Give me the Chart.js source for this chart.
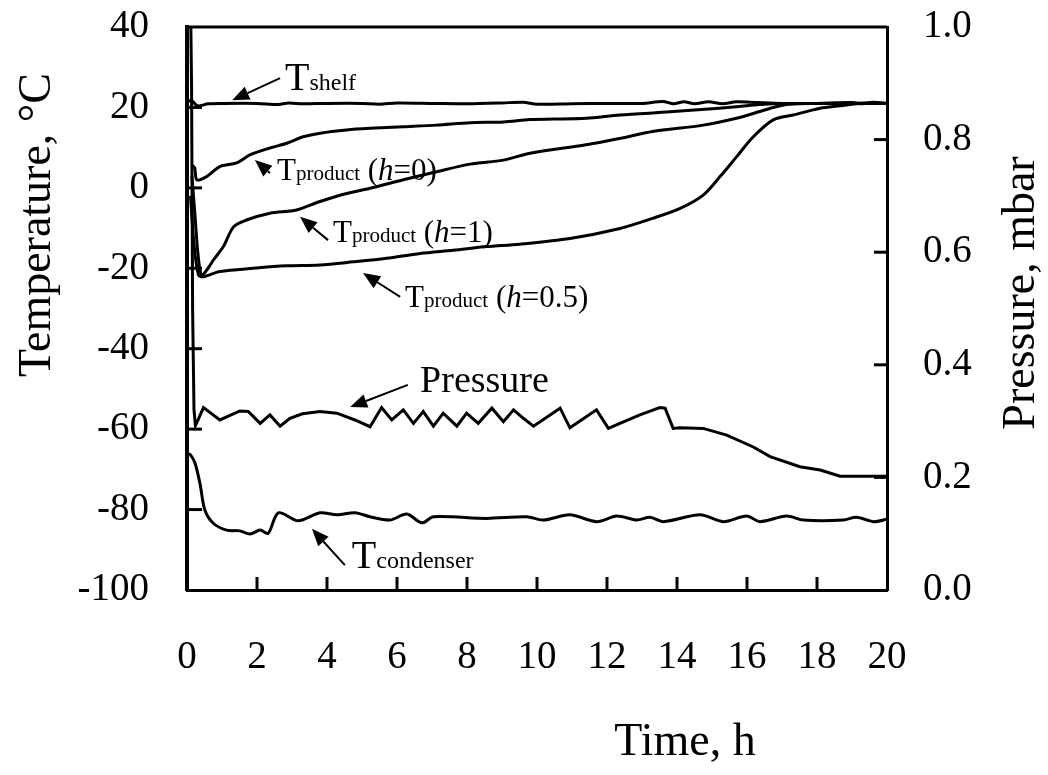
<!DOCTYPE html>
<html><head><meta charset="utf-8">
<script src="https://cdn.jsdelivr.net/npm/chart.js@4.4.1/dist/chart.umd.min.js"></script>
<style>html,body{margin:0;padding:0;background:#fff;}#wrap{width:1048px;height:775px;position:relative;}</style>
</head><body><div id="wrap"><canvas id="c" width="1048" height="775"></canvas></div>
<script>
const FONT = '"Liberation Serif", "Times New Roman", serif';

// ---- data ----
const shelfTime = [0.05,0.12,0.3,0.6,1.0,2.0,2.6,2.9,3.3,4.0,5.0,5.5,6.0,7.0,8.0,9.0,9.6,10.0,11.0,12.0,13.0,13.6,13.9,14.2,14.5,14.9,15.3,15.7,16.3,17.0,18.0,19.0,19.3,19.6,20.0];
const shelfTemp = [21.5,21.8,20.4,20.9,21.0,21.0,20.7,21.1,20.9,21.0,21.0,20.8,21.1,21.0,20.9,21.1,21.3,20.8,20.9,21.0,21.0,21.5,20.9,21.4,20.9,21.4,20.9,21.4,21.2,21.0,21.0,21.2,20.9,21.3,21.0];

const prodH0Time = [0.15,0.22,0.28,0.56,0.94,1.42,1.8,2.37,2.85,3.32,3.8,4.56,5.23,6.18,7.13,8.09,9.04,9.8,10.5,11.4,12.37,13.8,15.2,16.2,16.7,17.5,18.5,19.5,20.0];
const prodH0Temp = [5.5,5.0,2.0,2.8,5.3,6.2,8.2,9.9,11.1,12.7,13.6,14.4,14.8,15.2,15.6,16.2,16.4,17.0,17.1,17.3,18.1,18.9,19.8,20.6,20.9,21.0,21.0,21.1,21.0];

const prodH1Time = [0.14,0.22,0.32,0.42,0.6,0.75,1.04,1.33,1.7,2.37,3.13,3.8,4.56,5.23,6.18,7.13,8.09,9.04,9.8,11.4,12.37,13.3,14.75,15.7,16.18,16.75,17.2,18.0,19.0,20.0];
const prodH1Temp = [3.0,-6.0,-17.0,-21.7,-20.0,-18.0,-14.6,-9.7,-8.0,-6.3,-5.5,-3.4,-1.4,-0.1,2.0,4.0,5.9,6.9,8.6,10.7,12.3,14.0,15.6,17.3,18.5,20.0,20.8,21.0,21.0,21.0];

const prodH05Time = [0.1,0.2,0.33,0.47,0.94,1.9,2.85,3.8,4.75,5.7,6.66,7.61,8.56,9.5,10.94,12.37,13.3,14.09,14.75,15.23,15.7,16.18,16.75,17.32,18.09,18.66,19.2,20.0];
const prodH05Temp = [-2.0,-14.0,-21.7,-22.1,-20.8,-20.0,-19.4,-19.2,-18.4,-17.5,-16.3,-15.5,-14.6,-14.0,-12.6,-10.1,-7.6,-5.1,-1.8,2.8,7.7,12.7,16.9,18.1,19.8,20.4,21.0,21.0];

const pressTime = [0.1,0.13,0.16,0.2,0.24,0.3,0.47,0.94,1.51,1.75,2.09,2.37,2.66,2.94,3.3,3.8,4.28,4.8,5.23,5.56,5.85,6.18,6.47,6.75,7.04,7.32,7.71,7.99,8.32,8.71,9.04,9.33,9.61,9.9,10.66,10.94,11.7,12.04,12.37,12.94,13.51,13.66,13.89,14.09,14.75,15.42,16.18,16.66,17.51,18.09,18.66,20.0];
const pressVal = [1.05,0.9,0.5,0.32,0.292,0.3,0.324,0.302,0.318,0.317,0.296,0.311,0.291,0.305,0.313,0.317,0.314,0.302,0.29,0.324,0.302,0.32,0.296,0.317,0.291,0.314,0.291,0.314,0.296,0.323,0.299,0.32,0.305,0.291,0.323,0.288,0.32,0.287,0.296,0.311,0.324,0.323,0.287,0.288,0.287,0.275,0.254,0.237,0.219,0.213,0.202,0.202];

const condTime = [0.0,0.1,0.23,0.37,0.51,0.75,1.13,1.51,1.8,2.09,2.32,2.61,3.18,3.8,4.28,4.8,5.23,5.8,6.28,6.71,7.04,8.56,9.71,10.18,10.94,11.71,12.28,12.85,13.23,13.61,14.66,15.32,15.99,16.37,17.13,17.61,18.75,19.13,19.61,20.0];
const condTemp = [-66.0,-66.4,-68.5,-73.5,-80.1,-83.4,-85.1,-85.3,-86.1,-85.1,-85.9,-80.8,-82.8,-80.8,-81.3,-80.8,-81.8,-82.6,-81.1,-83.3,-81.8,-82.2,-81.8,-82.6,-81.3,-83.0,-81.6,-82.6,-81.9,-83.0,-81.3,-83.0,-81.6,-83.0,-81.6,-82.6,-82.6,-81.9,-83.0,-82.4];

const xTicks = [0,2,4,6,8,10,12,14,16,18,20];
const tempTicks = [-100,-80,-60,-40,-20,0,20,40];
const pressTicks = [0,0.2,0.4,0.6,0.8,1.0];

// labels: parts [text, size, italic], anchor [time, temp], arrow tail, arrow tip
const labelParts = [
  [['T',40],['shelf',24]],
  [['T',31],['product',21],[' (',31],['h',31,true],['=0)',31]],
  [['T',31],['product',21],[' (',31],['h',31,true],['=1)',31]],
  [['T',31],['product',21],[' (',31],['h',31,true],['=0.5)',31]],
  [['Pressure',38]],
  [['T',40],['condenser',24]]
];
const labelAt   = [[2.8,24.3],[2.57,2.0],[4.17,-13.4],[6.23,-29.6],[6.66,-50.7],[4.71,-94.5]];
const arrowTail = [[2.66,27.3],[2.37,3.7],[4.03,-13.0],[6.09,-27.1],[6.31,-49.0],[4.51,-93.8]];
const arrowTip  = [[1.29,21.8],[1.94,6.9],[3.23,-7.2],[5.03,-21.2],[4.66,-54.5],[3.57,-84.8]];

const axisTitles = {x:'Time, h', y:'Temperature, °C', y1:'Pressure, mbar'};

function pts(xs, ys){ return xs.map((x,i)=>({x:x, y:ys[i]})); }

function arrow(ctx, x1,y1,x2,y2){
  const a = Math.atan2(y2-y1, x2-x1), L = 17, W = 7;
  const bx = x2 - L*Math.cos(a), by = y2 - L*Math.sin(a);
  ctx.beginPath(); ctx.moveTo(x1,y1); ctx.lineTo(bx,by); ctx.stroke();
  ctx.beginPath(); ctx.moveTo(x2,y2);
  ctx.lineTo(bx + W*Math.sin(a), by - W*Math.cos(a));
  ctx.lineTo(bx - W*Math.sin(a), by + W*Math.cos(a));
  ctx.closePath(); ctx.fill();
}

const deco = {
  id:'deco',
  afterDraw(chart){
    const ctx = chart.ctx, ca = chart.chartArea;
    const sx = chart.scales.x, sy = chart.scales.y, sp = chart.scales.y1;
    ctx.save();
    ctx.strokeStyle = '#000'; ctx.fillStyle = '#000';
    ctx.lineWidth = 3;
    ctx.beginPath(); ctx.moveTo(ca.left, ca.top); ctx.lineTo(ca.right, ca.top); ctx.stroke();
    const TL = 13;
    xTicks.forEach(v=>{ if (v===sx.min||v===sx.max) return; const p = sx.getPixelForValue(v);
      ctx.beginPath(); ctx.moveTo(p, ca.bottom); ctx.lineTo(p, ca.bottom-TL); ctx.stroke(); });
    tempTicks.forEach(v=>{ if (v===sy.min||v===sy.max) return; const p = sy.getPixelForValue(v);
      ctx.beginPath(); ctx.moveTo(ca.left, p); ctx.lineTo(ca.left+TL+2, p); ctx.stroke(); });
    pressTicks.forEach(v=>{ if (v===sp.min||v===sp.max) return; const p = sp.getPixelForValue(v);
      ctx.beginPath(); ctx.moveTo(ca.right, p); ctx.lineTo(ca.right-TL, p); ctx.stroke(); });
    ctx.textBaseline = 'alphabetic'; ctx.textAlign = 'left';
    labelParts.forEach((parts,i)=>{
      let cx = sx.getPixelForValue(labelAt[i][0]);
      const cy = sy.getPixelForValue(labelAt[i][1]);
      parts.forEach(p=>{
        ctx.font = (p[2]?'italic ':'') + p[1] + 'px ' + FONT;
        ctx.fillText(p[0], cx, cy);
        cx += ctx.measureText(p[0]).width;
      });
      ctx.lineWidth = 2;
      arrow(ctx, sx.getPixelForValue(arrowTail[i][0]), sy.getPixelForValue(arrowTail[i][1]),
                 sx.getPixelForValue(arrowTip[i][0]), sy.getPixelForValue(arrowTip[i][1]));
    });
    ctx.font = '46px ' + FONT;
    ctx.textAlign = 'center'; ctx.textBaseline = 'middle';
    ctx.fillText(axisTitles.x, 685, 743);
    ctx.save(); ctx.translate(38, 225); ctx.rotate(-Math.PI/2); ctx.fillText(axisTitles.y, 0, 0); ctx.restore();
    ctx.save(); ctx.translate(1022, 293); ctx.rotate(-Math.PI/2); ctx.fillText(axisTitles.y1, 0, 0); ctx.restore();
    ctx.restore();
  }
};

const tickFont = {family: FONT, size: 39};
const lineDs = (xs, ys, axis, tension) => ({
  data: pts(xs, ys), yAxisID: axis, borderColor:'#000', borderWidth:3,
  pointRadius:0, tension: tension, fill:false
});

new Chart(document.getElementById('c'), {
  type:'line',
  data:{ datasets:[
    lineDs(shelfTime, shelfTemp, 'y', 0.3),
    lineDs(prodH0Time, prodH0Temp, 'y', 0.3),
    lineDs(prodH1Time, prodH1Temp, 'y', 0.3),
    lineDs(prodH05Time, prodH05Temp, 'y', 0.3),
    lineDs(condTime, condTemp, 'y', 0.3),
    lineDs(pressTime, pressVal, 'y1', 0)
  ]},
  options:{
    responsive:false, animation:false,
    layout:{padding:{top:27,left:0,right:0,bottom:0}},
    plugins:{legend:{display:false}, tooltip:{enabled:false}},
    scales:{
      x:{type:'linear', min:0, max:20,
        afterBuildTicks: s=>{ s.ticks = xTicks.map(v=>({value:v})); },
        afterFit: s=>{ s.height = 185; s.paddingLeft = 0; s.paddingRight = 0; },
        ticks:{font:tickFont, color:'#000', padding:44, maxRotation:0, autoSkip:false},
        grid:{display:false, drawTicks:false},
        border:{display:true, color:'#000', width:3}},
      y:{type:'linear', position:'left', min:-100, max:40,
        afterBuildTicks: s=>{ s.ticks = tempTicks.map(v=>({value:v})); },
        afterFit: s=>{ s.width = 187; s.paddingTop = 0; s.paddingBottom = 0; },
        ticks:{font:tickFont, color:'#000', padding:38, autoSkip:false},
        grid:{display:false, drawTicks:false},
        border:{display:true, color:'#000', width:4}},
      y1:{type:'linear', position:'right', min:0, max:1,
        afterBuildTicks: s=>{ s.ticks = pressTicks.map(v=>({value:v})); },
        afterFit: s=>{ s.width = 161; s.paddingTop = 0; s.paddingBottom = 0; },
        ticks:{font:tickFont, color:'#000', padding:36, autoSkip:false, callback:v=>Number(v).toFixed(1)},
        grid:{display:false, drawTicks:false},
        border:{display:true, color:'#000', width:3}}
    }
  },
  plugins:[deco]
});
</script></body></html>
